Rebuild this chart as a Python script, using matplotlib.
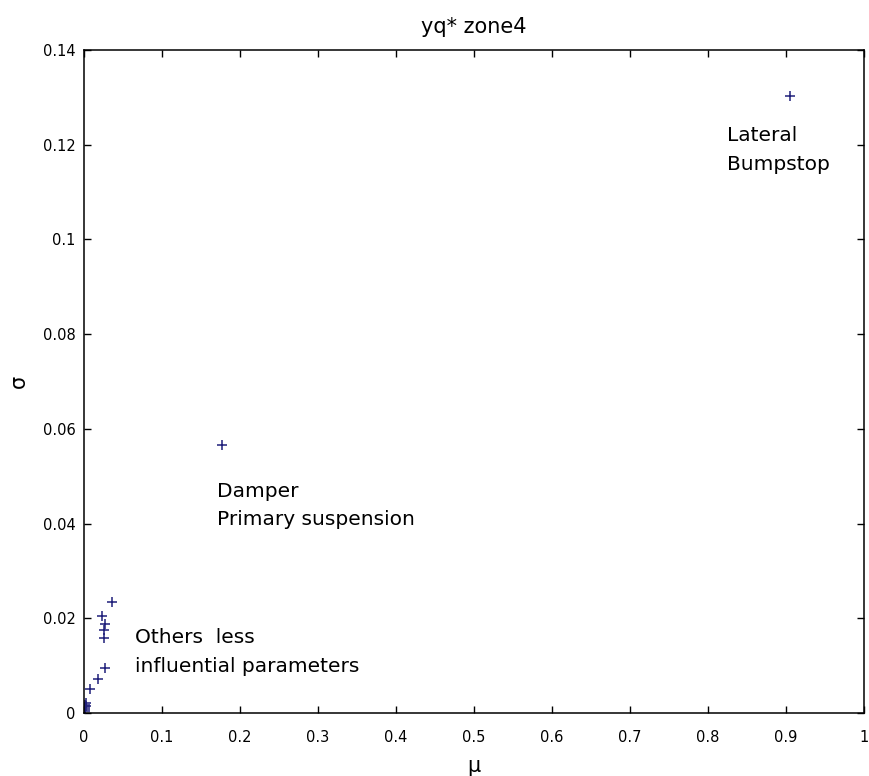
import matplotlib
matplotlib.use('Agg')
import matplotlib.pyplot as plt

# Sensitivity results: mean (mu) and std (sigma) per parameter
mu = [0.905, 0.177, 0.0363, 0.0227, 0.0269, 0.0260, 0.0260, 0.0269, 0.0176, 0.0077,
      0.0013, 0.0020, 0.0008, 0.0015, 0.0010, 0.0025]
sigma = [0.1303, 0.0566, 0.0235, 0.0205, 0.0187, 0.0175, 0.0159, 0.0096, 0.0071, 0.0051,
         0.0017, 0.0021, 0.0012, 0.0009, 0.0005, 0.0014]

notes = ['Lateral\nBumpstop', 'Damper\nPrimary suspension', 'Others  less\ninfluential parameters']
note_x = [0.824, 0.1705, 0.065]
note_y = [0.1188, 0.0438, 0.0128]

xticks = [0, 0.1, 0.2, 0.3, 0.4, 0.5, 0.6, 0.7, 0.8, 0.9, 1]
xlabels = ['0', '0.1', '0.2', '0.3', '0.4', '0.5', '0.6', '0.7', '0.8', '0.9', '1']
yticks = [0, 0.02, 0.04, 0.06, 0.08, 0.1, 0.12, 0.14]
ylabels = ['0', '0.02', '0.04', '0.06', '0.08', '0.1', '0.12', '0.14']

fig = plt.figure(figsize=(8.7, 7.76), dpi=100)
ax = fig.add_axes([0.0966, 0.0812, 0.8966, 0.8544])

ax.plot(mu, sigma, '+', color='#1f1f7a', markersize=7, markeredgewidth=1.1)

for t, x, y in zip(notes, note_x, note_y):
    ax.text(x, y, t, fontsize=14.5, va='center', ha='left', linespacing=1.65)

ax.set_xlim(0, 1)
ax.set_ylim(0, 0.14)
ax.set_xticks(xticks)
ax.set_xticklabels(xlabels)
ax.set_yticks(yticks)
ax.set_yticklabels(ylabels)
ax.tick_params(direction='in', length=5, width=1, labelsize=10.5,
               top=True, right=True, pad=6)
ax.tick_params(axis='x', pad=12)
for s in ax.spines.values():
    s.set_linewidth(1.1)

ax.set_title('yq* zone4', fontsize=15, pad=12)
ax.set_xlabel('\u03bc', fontsize=15, labelpad=8)
ax.set_ylabel('\u03c3', fontsize=15, labelpad=10)

fig.savefig('out.png', dpi=100)
